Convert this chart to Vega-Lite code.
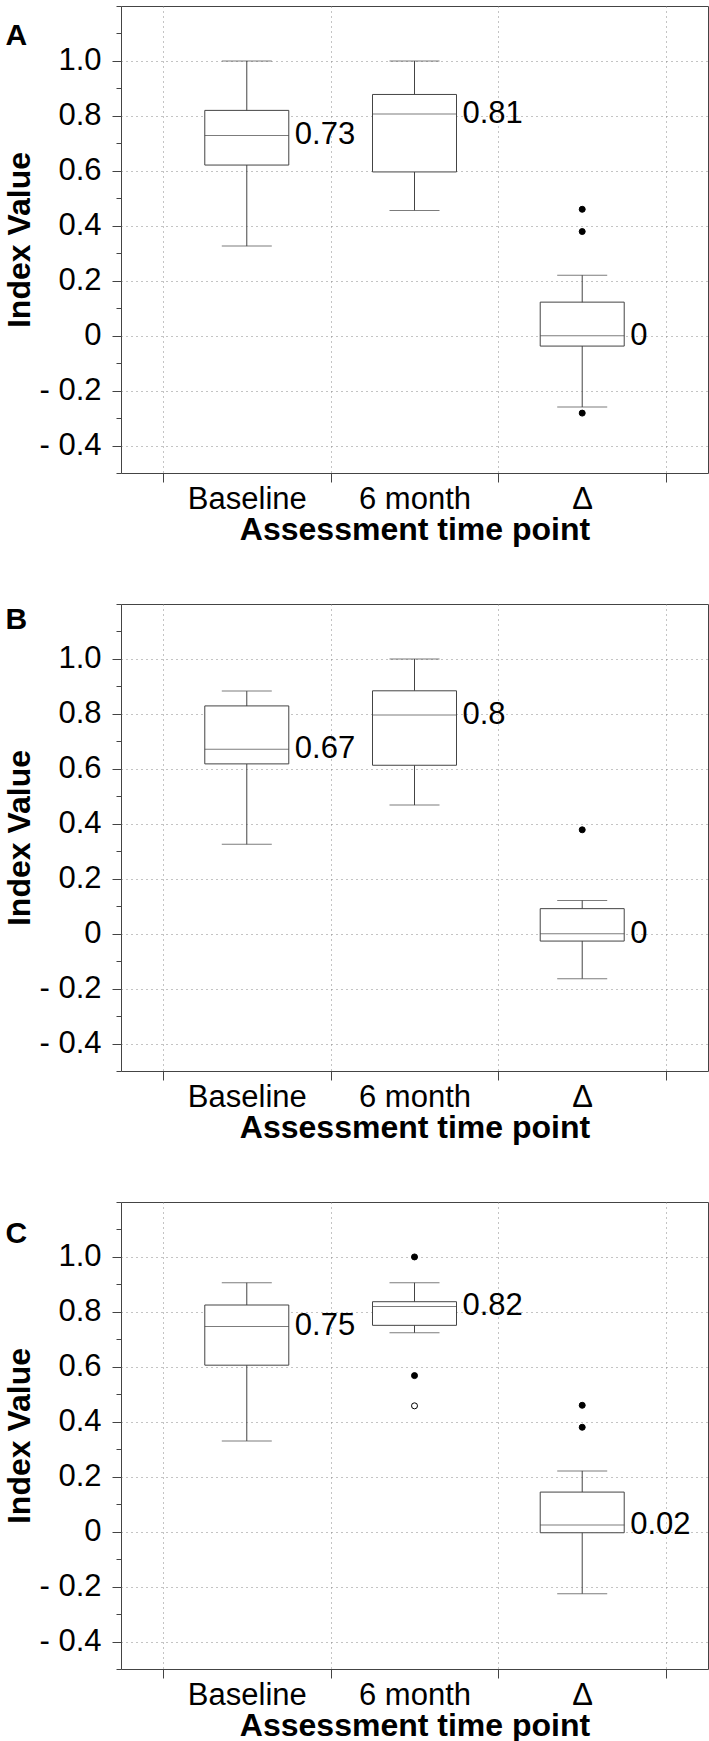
{
  "$schema": "https://vega.github.io/schema/vega-lite/v6.json",
  "background": "white",
  "padding": {"left": 3, "top": 5, "right": 2, "bottom": 0},
  "spacing": 57,
  "datasets": {
    "boxes": [
      {"panel": "A", "group": "Baseline", "lower": 0.326, "q1": 0.621, "median": 0.729, "q3": 0.820, "upper": 1.0, "label": "0.73"},
      {"panel": "A", "group": "6 month", "lower": 0.456, "q1": 0.596, "median": 0.807, "q3": 0.878, "upper": 1.0, "label": "0.81"},
      {"panel": "A", "group": "Δ", "lower": -0.260, "q1": -0.038, "median": 0.0, "q3": 0.122, "upper": 0.220, "label": "0"},
      {"panel": "B", "group": "Baseline", "lower": 0.325, "q1": 0.618, "median": 0.671, "q3": 0.829, "upper": 0.883, "label": "0.67"},
      {"panel": "B", "group": "6 month", "lower": 0.468, "q1": 0.613, "median": 0.796, "q3": 0.884, "upper": 1.0, "label": "0.8"},
      {"panel": "B", "group": "Δ", "lower": -0.164, "q1": -0.027, "median": 0.0, "q3": 0.091, "upper": 0.121, "label": "0"},
      {"panel": "C", "group": "Baseline", "lower": 0.330, "q1": 0.606, "median": 0.747, "q3": 0.825, "upper": 0.906, "label": "0.75"},
      {"panel": "C", "group": "6 month", "lower": 0.724, "q1": 0.751, "median": 0.820, "q3": 0.837, "upper": 0.906, "label": "0.82"},
      {"panel": "C", "group": "Δ", "lower": -0.226, "q1": -0.004, "median": 0.024, "q3": 0.144, "upper": 0.221, "label": "0.02"}
    ],
    "outliers": [
      {"panel": "A", "group": "Δ", "value": 0.460, "kind": "filled"},
      {"panel": "A", "group": "Δ", "value": 0.379, "kind": "filled"},
      {"panel": "A", "group": "Δ", "value": -0.282, "kind": "filled"},
      {"panel": "B", "group": "Δ", "value": 0.378, "kind": "filled"},
      {"panel": "C", "group": "6 month", "value": 1.0, "kind": "filled"},
      {"panel": "C", "group": "6 month", "value": 0.568, "kind": "filled"},
      {"panel": "C", "group": "6 month", "value": 0.458, "kind": "hollow"},
      {"panel": "C", "group": "Δ", "value": 0.460, "kind": "filled"},
      {"panel": "C", "group": "Δ", "value": 0.380, "kind": "filled"}
    ]
  },
  "config": {
    "font": "Liberation Sans",
    "view": {"stroke": "#444", "strokeWidth": 1},
    "axis": {
      "domainColor": "#444",
      "tickColor": "#444",
      "labelColor": "#000",
      "titleColor": "#000",
      "labelFont": "Liberation Sans",
      "titleFont": "Liberation Sans",
      "gridColor": "#888",
      "gridDash": [1, 4],
      "gridWidth": 1
    }
  },
  "vconcat": [
    {
      "width": 587, "height": 467,
      "resolve": {"scale": {"y": "shared"}, "axis": {"y": "independent"}},
      "encoding": {
        "x": {"field": "group", "type": "nominal", "sort": ["Baseline", "6 month", "Δ"],
          "scale": {"domain": ["Baseline", "6 month", "Δ"], "paddingInner": 0, "paddingOuter": 0.25},
          "axis": {"title": "Assessment time point", "labelAngle": 0, "tickBand": "extent", "grid": true, "domain": false, "tickSize": 9, "labelPadding": 2, "titlePadding": 0, "labelFontSize": 31, "titleFontSize": 32, "titleFontWeight": "bold"}}
      },
      "layer": [
        {"data": {"name": "boxes"}, "transform": [{"filter": "datum.panel == 'A'"}],
          "mark": {"type": "rule", "color": "#444", "strokeWidth": 1},
          "encoding": {
            "y": {"field": "lower", "type": "quantitative",
              "scale": {"domain": [-0.5, 1.2], "nice": false, "zero": false},
              "axis": {"orient": "left", "values": [-0.5, -0.4, -0.3, -0.2, -0.1, 0, 0.1, 0.2, 0.3, 0.4, 0.5, 0.6, 0.7, 0.8, 0.9, 1.0, 1.1, 1.2],
                "labels": false, "tickSize": 5, "grid": false, "domain": false,
                "title": "A", "titleAngle": 0, "titleX": -116, "titleY": 38.6, "titleAlign": "left", "titleBaseline": "alphabetic", "titleFontSize": 30, "titleFontWeight": "bold"}},
            "y2": {"field": "upper"}
          }},
        {"data": {"name": "boxes"}, "transform": [{"filter": "datum.panel == 'A'"}],
          "mark": {"type": "bar", "width": 84, "fill": "white", "stroke": "#444", "strokeWidth": 1},
          "encoding": {
            "y": {"field": "q1", "type": "quantitative",
              "scale": {"domain": [-0.5, 1.2], "nice": false, "zero": false},
              "axis": {"orient": "left", "values": [-0.4, -0.2, 0, 0.2, 0.4, 0.6, 0.8, 1.0],
                "labelExpr": "datum.value == 0 ? '0' : (datum.value < 0 ? '- ' + format(-datum.value, '.1f') : format(datum.value, '.1f'))",
                "tickSize": 9, "grid": true, "domain": false, "labelOverlap": false,
                "labelFontSize": 31, "labelPadding": 11, "title": "Index Value", "titlePadding": 2, "titleFontSize": 32, "titleFontWeight": "bold"}},
            "y2": {"field": "q3"}}},
        {"data": {"name": "boxes"}, "transform": [{"filter": "datum.panel == 'A'"}],
          "mark": {"type": "tick", "size": 84, "thickness": 1, "color": "#444"},
          "encoding": {"y": {"field": "median", "type": "quantitative", "axis": null}}},
        {"data": {"name": "boxes"}, "transform": [{"filter": "datum.panel == 'A'"}],
          "mark": {"type": "tick", "size": 50, "thickness": 1, "color": "#444"},
          "encoding": {"y": {"field": "lower", "type": "quantitative", "axis": null}}},
        {"data": {"name": "boxes"}, "transform": [{"filter": "datum.panel == 'A'"}],
          "mark": {"type": "tick", "size": 50, "thickness": 1, "color": "#444"},
          "encoding": {"y": {"field": "upper", "type": "quantitative", "axis": null}}},
        {"data": {"name": "outliers"}, "transform": [{"filter": "datum.panel == 'A'"}],
          "mark": {"type": "point", "filled": false, "size": 36, "stroke": "#000", "strokeWidth": 1, "opacity": 1},
          "encoding": {"y": {"field": "value", "type": "quantitative", "axis": null},
            "fill": {"field": "kind", "type": "nominal", "scale": {"domain": ["filled", "hollow"], "range": ["#000000", "#ffffff"]}, "legend": null}}},
        {"data": {"name": "boxes"}, "transform": [{"filter": "datum.panel == 'A'"}],
          "mark": {"type": "text", "align": "left", "baseline": "middle", "dx": 48, "fontSize": 31, "color": "#000"},
          "encoding": {"y": {"field": "median", "type": "quantitative", "axis": null}, "text": {"field": "label"}}}
      ]
    },
    {
      "width": 587, "height": 467,
      "resolve": {"scale": {"y": "shared"}, "axis": {"y": "independent"}},
      "encoding": {
        "x": {"field": "group", "type": "nominal", "sort": ["Baseline", "6 month", "Δ"],
          "scale": {"domain": ["Baseline", "6 month", "Δ"], "paddingInner": 0, "paddingOuter": 0.25},
          "axis": {"title": "Assessment time point", "labelAngle": 0, "tickBand": "extent", "grid": true, "domain": false, "tickSize": 9, "labelPadding": 2, "titlePadding": 0, "labelFontSize": 31, "titleFontSize": 32, "titleFontWeight": "bold"}}
      },
      "layer": [
        {"data": {"name": "boxes"}, "transform": [{"filter": "datum.panel == 'B'"}],
          "mark": {"type": "rule", "color": "#444", "strokeWidth": 1},
          "encoding": {
            "y": {"field": "lower", "type": "quantitative",
              "scale": {"domain": [-0.5, 1.2], "nice": false, "zero": false},
              "axis": {"orient": "left", "values": [-0.5, -0.4, -0.3, -0.2, -0.1, 0, 0.1, 0.2, 0.3, 0.4, 0.5, 0.6, 0.7, 0.8, 0.9, 1.0, 1.1, 1.2],
                "labels": false, "tickSize": 5, "grid": false, "domain": false,
                "title": "B", "titleAngle": 0, "titleX": -116, "titleY": 24.6, "titleAlign": "left", "titleBaseline": "alphabetic", "titleFontSize": 30, "titleFontWeight": "bold"}},
            "y2": {"field": "upper"}
          }},
        {"data": {"name": "boxes"}, "transform": [{"filter": "datum.panel == 'B'"}],
          "mark": {"type": "bar", "width": 84, "fill": "white", "stroke": "#444", "strokeWidth": 1},
          "encoding": {
            "y": {"field": "q1", "type": "quantitative",
              "scale": {"domain": [-0.5, 1.2], "nice": false, "zero": false},
              "axis": {"orient": "left", "values": [-0.4, -0.2, 0, 0.2, 0.4, 0.6, 0.8, 1.0],
                "labelExpr": "datum.value == 0 ? '0' : (datum.value < 0 ? '- ' + format(-datum.value, '.1f') : format(datum.value, '.1f'))",
                "tickSize": 9, "grid": true, "domain": false, "labelOverlap": false,
                "labelFontSize": 31, "labelPadding": 11, "title": "Index Value", "titlePadding": 2, "titleFontSize": 32, "titleFontWeight": "bold"}},
            "y2": {"field": "q3"}}},
        {"data": {"name": "boxes"}, "transform": [{"filter": "datum.panel == 'B'"}],
          "mark": {"type": "tick", "size": 84, "thickness": 1, "color": "#444"},
          "encoding": {"y": {"field": "median", "type": "quantitative", "axis": null}}},
        {"data": {"name": "boxes"}, "transform": [{"filter": "datum.panel == 'B'"}],
          "mark": {"type": "tick", "size": 50, "thickness": 1, "color": "#444"},
          "encoding": {"y": {"field": "lower", "type": "quantitative", "axis": null}}},
        {"data": {"name": "boxes"}, "transform": [{"filter": "datum.panel == 'B'"}],
          "mark": {"type": "tick", "size": 50, "thickness": 1, "color": "#444"},
          "encoding": {"y": {"field": "upper", "type": "quantitative", "axis": null}}},
        {"data": {"name": "outliers"}, "transform": [{"filter": "datum.panel == 'B'"}],
          "mark": {"type": "point", "filled": false, "size": 36, "stroke": "#000", "strokeWidth": 1, "opacity": 1},
          "encoding": {"y": {"field": "value", "type": "quantitative", "axis": null},
            "fill": {"field": "kind", "type": "nominal", "scale": {"domain": ["filled", "hollow"], "range": ["#000000", "#ffffff"]}, "legend": null}}},
        {"data": {"name": "boxes"}, "transform": [{"filter": "datum.panel == 'B'"}],
          "mark": {"type": "text", "align": "left", "baseline": "middle", "dx": 48, "fontSize": 31, "color": "#000"},
          "encoding": {"y": {"field": "median", "type": "quantitative", "axis": null}, "text": {"field": "label"}}}
      ]
    },
    {
      "width": 587, "height": 467,
      "resolve": {"scale": {"y": "shared"}, "axis": {"y": "independent"}},
      "encoding": {
        "x": {"field": "group", "type": "nominal", "sort": ["Baseline", "6 month", "Δ"],
          "scale": {"domain": ["Baseline", "6 month", "Δ"], "paddingInner": 0, "paddingOuter": 0.25},
          "axis": {"title": "Assessment time point", "labelAngle": 0, "tickBand": "extent", "grid": true, "domain": false, "tickSize": 9, "labelPadding": 2, "titlePadding": 0, "labelFontSize": 31, "titleFontSize": 32, "titleFontWeight": "bold"}}
      },
      "layer": [
        {"data": {"name": "boxes"}, "transform": [{"filter": "datum.panel == 'C'"}],
          "mark": {"type": "rule", "color": "#444", "strokeWidth": 1},
          "encoding": {
            "y": {"field": "lower", "type": "quantitative",
              "scale": {"domain": [-0.5, 1.2], "nice": false, "zero": false},
              "axis": {"orient": "left", "values": [-0.5, -0.4, -0.3, -0.2, -0.1, 0, 0.1, 0.2, 0.3, 0.4, 0.5, 0.6, 0.7, 0.8, 0.9, 1.0, 1.1, 1.2],
                "labels": false, "tickSize": 5, "grid": false, "domain": false,
                "title": "C", "titleAngle": 0, "titleX": -116, "titleY": 40.6, "titleAlign": "left", "titleBaseline": "alphabetic", "titleFontSize": 30, "titleFontWeight": "bold"}},
            "y2": {"field": "upper"}
          }},
        {"data": {"name": "boxes"}, "transform": [{"filter": "datum.panel == 'C'"}],
          "mark": {"type": "bar", "width": 84, "fill": "white", "stroke": "#444", "strokeWidth": 1},
          "encoding": {
            "y": {"field": "q1", "type": "quantitative",
              "scale": {"domain": [-0.5, 1.2], "nice": false, "zero": false},
              "axis": {"orient": "left", "values": [-0.4, -0.2, 0, 0.2, 0.4, 0.6, 0.8, 1.0],
                "labelExpr": "datum.value == 0 ? '0' : (datum.value < 0 ? '- ' + format(-datum.value, '.1f') : format(datum.value, '.1f'))",
                "tickSize": 9, "grid": true, "domain": false, "labelOverlap": false,
                "labelFontSize": 31, "labelPadding": 11, "title": "Index Value", "titlePadding": 2, "titleFontSize": 32, "titleFontWeight": "bold"}},
            "y2": {"field": "q3"}}},
        {"data": {"name": "boxes"}, "transform": [{"filter": "datum.panel == 'C'"}],
          "mark": {"type": "tick", "size": 84, "thickness": 1, "color": "#444"},
          "encoding": {"y": {"field": "median", "type": "quantitative", "axis": null}}},
        {"data": {"name": "boxes"}, "transform": [{"filter": "datum.panel == 'C'"}],
          "mark": {"type": "tick", "size": 50, "thickness": 1, "color": "#444"},
          "encoding": {"y": {"field": "lower", "type": "quantitative", "axis": null}}},
        {"data": {"name": "boxes"}, "transform": [{"filter": "datum.panel == 'C'"}],
          "mark": {"type": "tick", "size": 50, "thickness": 1, "color": "#444"},
          "encoding": {"y": {"field": "upper", "type": "quantitative", "axis": null}}},
        {"data": {"name": "outliers"}, "transform": [{"filter": "datum.panel == 'C'"}],
          "mark": {"type": "point", "filled": false, "size": 36, "stroke": "#000", "strokeWidth": 1, "opacity": 1},
          "encoding": {"y": {"field": "value", "type": "quantitative", "axis": null},
            "fill": {"field": "kind", "type": "nominal", "scale": {"domain": ["filled", "hollow"], "range": ["#000000", "#ffffff"]}, "legend": null}}},
        {"data": {"name": "boxes"}, "transform": [{"filter": "datum.panel == 'C'"}],
          "mark": {"type": "text", "align": "left", "baseline": "middle", "dx": 48, "fontSize": 31, "color": "#000"},
          "encoding": {"y": {"field": "median", "type": "quantitative", "axis": null}, "text": {"field": "label"}}}
      ]
    }
  ]
}
